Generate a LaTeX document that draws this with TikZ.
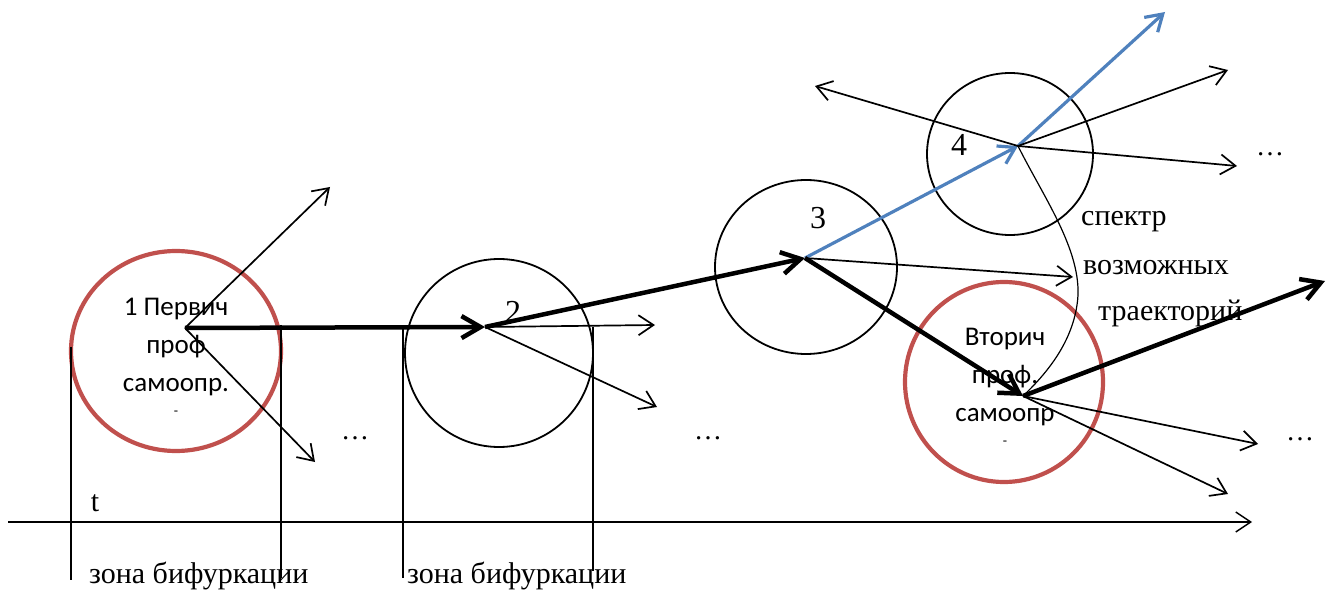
\documentclass[tikz,border=0pt]{standalone}
\usepackage{fontspec}
\setmainfont{Liberation Serif}
\newfontfamily\calib{Carlito}
\usetikzlibrary{arrows.meta,shapes.geometric}
\definecolor{cred}{HTML}{C0504D}
\definecolor{cblue}{HTML}{4F81BD}
\tikzset{
  thinarr/.style={line width=1.7pt,-{Straight Barb[length=15pt,width=20pt]}},
  thickarr/.style={line width=4.5pt,-{Straight Barb[length=19pt,width=22pt]}},
  bluearr/.style={cblue,line width=3.2pt,-{Straight Barb[length=16pt,width=20pt]}},
  blkcirc/.style={draw,line width=1.8pt,ellipse,inner sep=0pt},
  redcirc/.style={draw=cred,line width=4.2pt,ellipse,inner sep=0pt},
  vline/.style={line width=1.4pt},
  lbl/.style={font=\fontsize{30}{36}\selectfont,inner sep=0pt},
  num/.style={font=\fontsize{32}{36}\selectfont,inner sep=0pt},
  ctext/.style={font=\calib\fontsize{27}{38}\selectfont,align=center,inner sep=0pt},
  dots/.style={font=\fontsize{28}{30}\selectfont,inner sep=0pt}
}
\begin{document}
\begin{tikzpicture}[x=1pt,y=-1pt]
\useasboundingbox (0,0) rectangle (1330,593);
% circles
\node[redcirc,minimum width=210pt,minimum height=200pt] (c1) at (176,351) {};
\node[blkcirc,minimum width=188pt,minimum height=188pt] (c2) at (499,353) {};
\node[blkcirc,minimum width=182pt,minimum height=174pt] (c3) at (806,267) {};
\node[blkcirc,minimum width=166pt,minimum height=162pt] (c4) at (1010,154) {};
\node[redcirc,minimum width=198pt,minimum height=200pt] (c5) at (1004,382) {};
% circle texts
\node[ctext] (t1) at (176,357) {1 Первич\\проф\\самоопр.\\[-14pt]{\fontsize{14}{14}\selectfont -}};
\node[ctext] (t5) at (1005,387) {Вторич\\проф.\\самоопр\\[-14pt]{\fontsize{14}{14}\selectfont -}};
\node[num] (n2) at (513,312) {2};
\node[num] (n3) at (818,218) {3};
\node[num] (n4) at (959,145) {4};
% hubs
\coordinate (p1) at (185,328);
\coordinate (p2) at (485,327);
\coordinate (p3) at (805,258);
\coordinate (p4) at (1018,146);
\coordinate (p5) at (1023,396);
% free ends
\coordinate (e1a) at (330,187);
\coordinate (e1b) at (315,462);
\coordinate (e2a) at (655,325);
\coordinate (e2b) at (657,407);
\coordinate (e3a) at (1073,277);
\coordinate (e4a) at (1228,70);
\coordinate (e4b) at (1237,166);
\coordinate (e4c) at (815,86);
\coordinate (e4d) at (1165,12);
\coordinate (e5a) at (1325,281);
\coordinate (e5b) at (1258,444);
\coordinate (e5c) at (1228,494);
% time axis and zone lines
\coordinate (ax0) at (8,522);
\coordinate (ax1) at (1252,522);
\draw[thinarr,line width=1.4pt] (ax0) -- (ax1);
\coordinate (v1t) at (71,347); \coordinate (v1b) at (71,580);
\coordinate (v2t) at (281,325); \coordinate (v2b) at (281,578);
\coordinate (v3t) at (403,327); \coordinate (v3b) at (403,578);
\coordinate (v4t) at (593,327); \coordinate (v4b) at (593,571);
\draw[vline] (v1t) -- (v1b);
\draw[vline] (v2t) -- (v2b);
\draw[vline] (v3t) -- (v3b);
\draw[vline] (v4t) -- (v4b);
% arrows
\draw[thinarr] (p1) -- (e1a);
\draw[thinarr] (p1) -- (e1b);
\draw[thickarr] (p1) -- (p2);
\draw[thinarr] (p2) -- (e2a);
\draw[thinarr] (p2) -- (e2b);
\draw[thickarr] (p2) -- (p3);
\draw[thinarr] (p3) -- (e3a);
\draw[bluearr] (p3) -- (p4);
\draw[bluearr] (p4) -- (e4d);
\draw[thinarr] (p4) -- (e4a);
\draw[thinarr] (p4) -- (e4b);
\draw[thinarr] (p4) -- (e4c);
\draw[thickarr] (p3) -- (p5);
\draw[thickarr] (p5) -- (e5a);
\draw[thinarr] (p5) -- (e5b);
\draw[thinarr] (p5) -- (e5c);
% spectrum curve
\draw[line width=1.2pt] (p4) .. controls (1045,200) and (1085,255) .. (1077,305) .. controls (1071,345) and (1045,375) .. (p5);
% labels
\node[lbl,anchor=west] (s1) at (1081,222) {спектр};
\node[lbl,anchor=west] (s2) at (1083,268) {возможных};
\node[lbl,anchor=west] (s3) at (1098,313) {траекторий};
\node[lbl,anchor=west] (z1) at (89,576) {зона бифуркации};
\node[lbl,anchor=west] (z2) at (407,576) {зона бифуркации};
\node[lbl] (tt) at (95,503) {t};
\node[dots] (d1) at (355,438) {\ldots};
\node[dots] (d2) at (708,438) {\ldots};
\node[dots] (d3) at (1270,154) {\ldots};
\node[dots] (d4) at (1300,439) {\ldots};
\end{tikzpicture}
\end{document}
